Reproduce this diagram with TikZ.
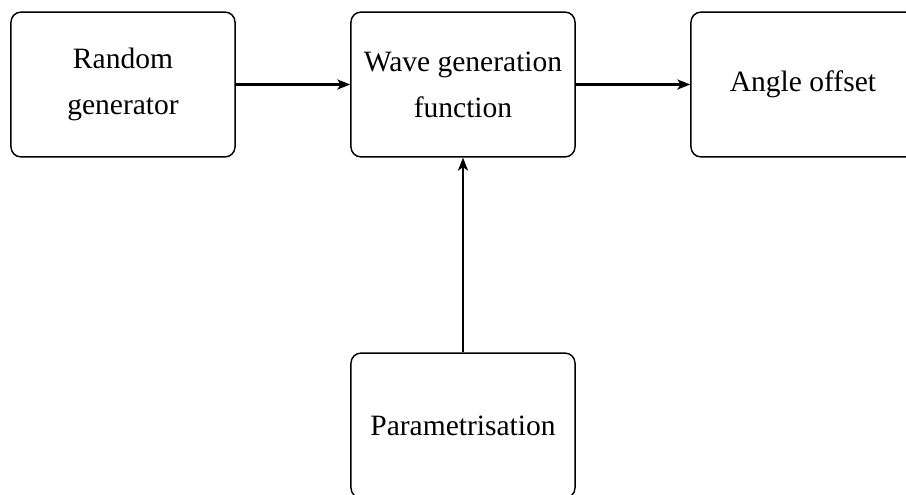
\documentclass[tikz,border=0pt]{standalone}
\usepackage{fontspec}
\setmainfont{Liberation Serif}
\usetikzlibrary{arrows.meta}
\begin{document}
\begin{tikzpicture}[x=0.3472pt,y=-0.3472pt,
  blk/.style={draw,line width=0.5pt,rounded corners=3.5pt,minimum width=77.8pt,minimum height=50.3pt,inner sep=0pt,align=center,font=\fontsize{10.25pt}{15.9pt}\selectfont},
  conn/.style={line width=0.8pt,-{Stealth[length=4.5pt,width=3.5pt,inset=1.2pt]}}]
\useasboundingbox (0,0) rectangle (906,495);
\node[blk] (rg) at (123,84.5) {Random\\generator};
\node[blk] (wg) at (463,84.5) {Wave generation\\function};
\node[blk] (ao) at (803,84.5) {Angle offset};
\node[blk] (pm) at (463,425.5) {Parametrisation};
\draw[conn] (rg) -- (wg);
\draw[conn] (wg) -- (ao);
\draw[conn] (pm) -- (wg);
\end{tikzpicture}
\end{document}
